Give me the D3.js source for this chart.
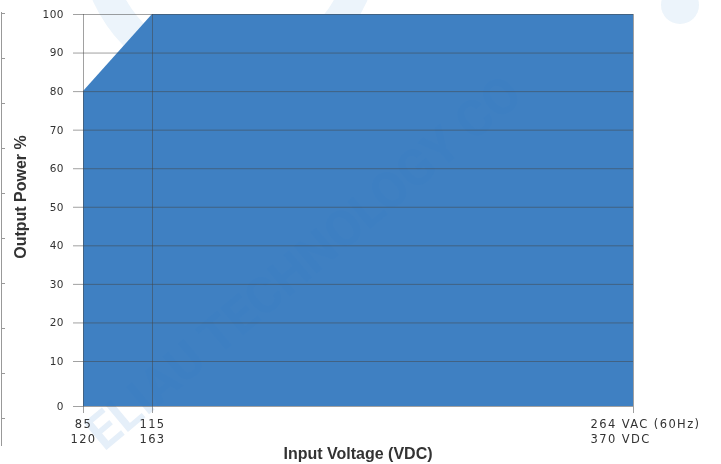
<!doctype html>
<meta charset=utf8>
<title>Output power vs input voltage</title>
<style>
  body { margin: 0; background: #fff; }
  svg { display: block; }
  .tick text { font-family: "DejaVu Sans", sans-serif; fill: #333; }
  .title { font-family: "Liberation Sans", Arial, sans-serif; font-weight: bold; font-size: 16px; fill: #333; }
</style>
<svg width=721 height=464></svg>
<script src=https://d3js.org/d3.v7.min.js></script>
<script>
  // derating curve
  var inputVac = [85, 115, 264];
  var outputPower = [80, 100, 100];
  var vacLabels = ['85', '115', '264 VAC (60Hz)'];
  var vdcLabels = ['120', '163', '370 VDC'];
  var powerTicks = [0, 10, 20, 30, 40, 50, 60, 70, 80, 90, 100];

  var svg = d3.select('svg');

  // axis spacing is not even on the original, so use piecewise scales
  var x = d3.scaleLinear().domain([85, 115, 264]).range([83, 152, 633]);
  var y = d3.scaleLinear().domain([0, 10, 100]).range([406, 361, 14]);

  // faint watermark
  var wm = svg.append('g').attr('fill', '#3d8fd0').attr('opacity', 0.1);
  wm.append('path')
    .attr('d', d3.arc()({innerRadius: 120, outerRadius: 150, startAngle: Math.PI * 0.55, endAngle: Math.PI * 1.45}))
    .attr('transform', 'translate(230,-60)');
  wm.append('circle').attr('cx', 680).attr('cy', 5).attr('r', 19);

  // stray axis at the left edge
  svg.append('path')
    .attr('d', 'M1.5,12V446')
    .attr('stroke', '#999').attr('fill', 'none');
  svg.append('g').selectAll('line')
    .data(d3.range(10))
    .enter().append('line')
    .attr('x1', 1).attr('x2', 5)
    .attr('y1', function(d) { return 13.5 + d * 45; })
    .attr('y2', function(d) { return 13.5 + d * 45; })
    .attr('stroke', '#999');

  var pts = inputVac.map(function(v, i) { return {v: v, p: outputPower[i]}; });

  svg.append('path')
    .datum(pts)
    .attr('fill', '#3f80c2')
    .attr('d', d3.area()
      .x(function(d) { return x(d.v); })
      .y0(y(0))
      .y1(function(d) { return y(d.p); }));

  svg.append('text')
    .text('ELIAU TECHNOLOGY CO')
    .attr('transform', 'translate(104,452) rotate(-40)')
    .attr('font-family', 'Roboto, sans-serif')
    .attr('font-weight', 'bold')
    .attr('font-size', 50)
    .attr('fill', '#2f7ac8')
    .attr('opacity', 0.12);

  // y axis + gridlines
  var yAxis = svg.append('g')
    .attr('transform', 'translate(83,0)')
    .call(d3.axisLeft(y).tickValues(powerTicks).tickSize(-550).tickPadding(19));
  yAxis.select('.domain').remove();
  yAxis.selectAll('.tick line')
    .attr('x1', -10)
    .attr('stroke', '#444').attr('stroke-opacity', 0.5);
  yAxis.selectAll('.tick text').attr('font-size', 10.5).attr('letter-spacing', 0.5);

  // x axis + vertical lines
  var xAxis = svg.append('g')
    .attr('transform', 'translate(0,' + y(0) + ')')
    .call(d3.axisBottom(x).tickValues(inputVac).tickSize(7).tickFormat(''));
  xAxis.select('.domain').remove();
  xAxis.selectAll('.tick line')
    .attr('y1', y(100) - y(0))
    .attr('stroke', '#444').attr('stroke-opacity', 0.5);

  xAxis.selectAll('.tick').each(function(d, i) {
    var t = d3.select(this).select('text')
      .attr('font-size', 11.5)
      .attr('letter-spacing', 1.4)
      .attr('y', 15)
      .attr('dy', null)
      .attr('text-anchor', i === 2 ? 'start' : 'middle')
      .attr('x', i === 2 ? -43 : 0);
    t.append('tspan').attr('x', i === 2 ? -43 : 0).attr('dy', '0.6em').text(vacLabels[i]);
    t.append('tspan').attr('x', i === 2 ? -43 : 0).attr('dy', '1.35em').text(vdcLabels[i]);
  });

  svg.append('text')
    .attr('class', 'title')
    .attr('x', (x(85) + x(264)) / 2)
    .attr('y', 459)
    .attr('text-anchor', 'middle')
    .text('Input Voltage (VDC)');

  svg.append('text')
    .attr('class', 'title')
    .attr('transform', 'translate(26,197) rotate(-90)')
    .attr('text-anchor', 'middle')
    .text('Output Power %');
</script>
